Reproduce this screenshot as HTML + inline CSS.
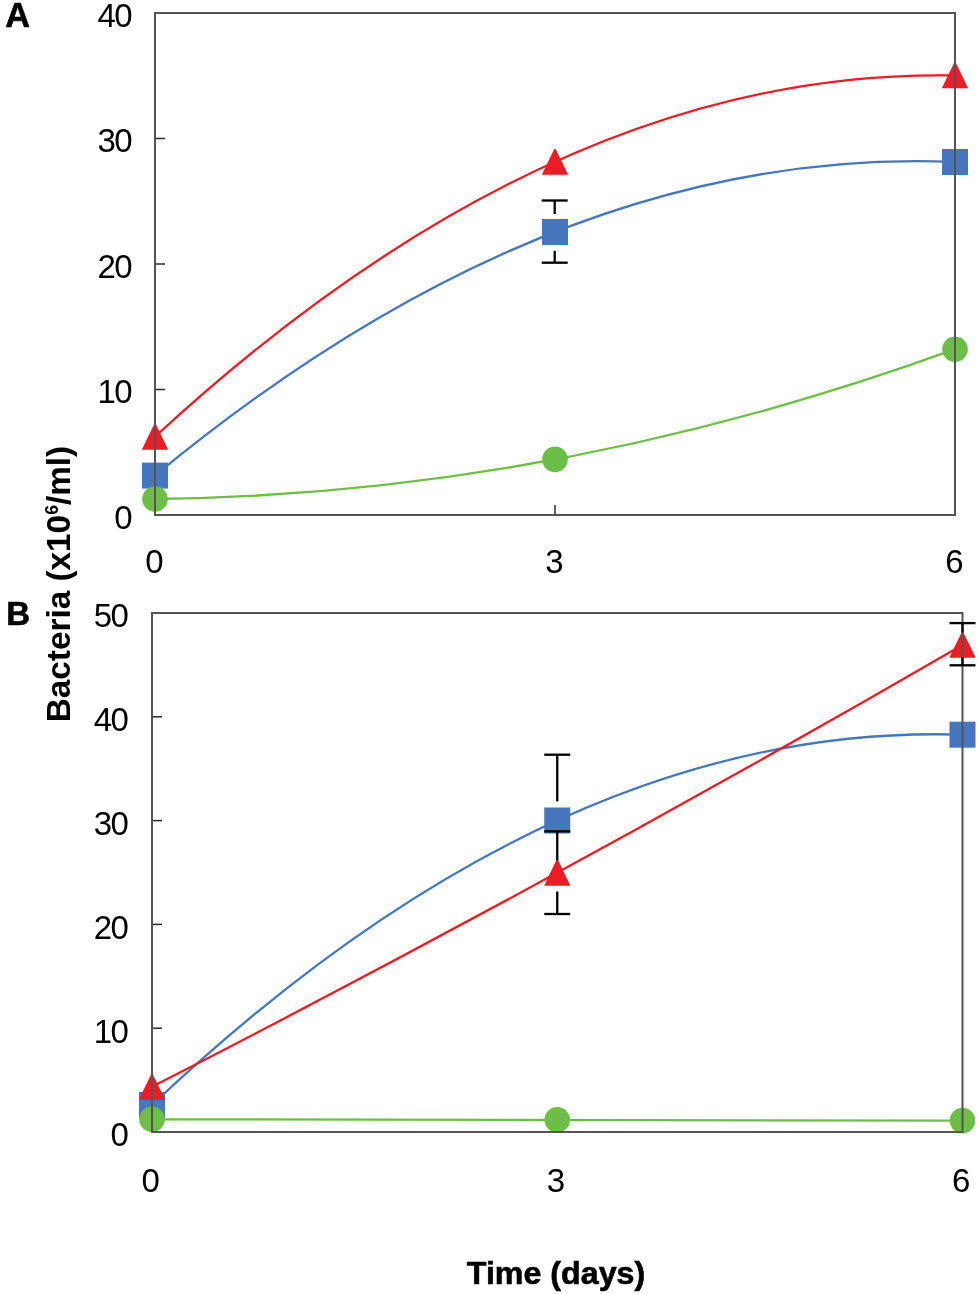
<!DOCTYPE html>
<html><head><meta charset="utf-8"><style>
html,body{margin:0;padding:0;background:#fff;}
body{width:980px;height:1294px;overflow:hidden;}
svg{display:block;will-change:transform;}
.t{font-family:"Liberation Sans",sans-serif;font-size:33px;letter-spacing:-1.5px;fill:#000;}
.b{font-family:"Liberation Sans",sans-serif;font-weight:bold;fill:#000;}
</style></head><body>
<svg width="980" height="1294" viewBox="0 0 980 1294">
<rect width="980" height="1294" fill="#fff"/>
<line x1="155" y1="389.5" x2="165" y2="389.5" stroke="#2a2a2a" stroke-width="1.5"/>
<line x1="155" y1="264" x2="165" y2="264" stroke="#2a2a2a" stroke-width="1.5"/>
<line x1="155" y1="138.5" x2="165" y2="138.5" stroke="#2a2a2a" stroke-width="1.5"/>
<line x1="555" y1="515" x2="555" y2="505" stroke="#2a2a2a" stroke-width="1.5"/>
<path d="M155,436.75 Q555,67.5 955,75.45" fill="none" stroke="#ec1c24" stroke-width="2.3"/>
<path d="M155,475.6 Q555,145.2 955,162" fill="none" stroke="#4677bd" stroke-width="2.3"/>
<path d="M155,499 Q555,494.7 955,349.2" fill="none" stroke="#6dbe46" stroke-width="2.3"/>
<path d="M154.3,423.85 L155.7,423.85 L168.2,449.65 L141.8,449.65 Z" fill="#ec1c24"/>
<path d="M554.3,148.9 L555.7,148.9 L568.2,174.7 L541.8,174.7 Z" fill="#ec1c24"/>
<path d="M954.3,62.55 L955.7,62.55 L968.2,88.35 L941.8,88.35 Z" fill="#ec1c24"/>
<rect x="142" y="462.6" width="26" height="26" fill="#4677bd"/>
<rect x="542" y="219" width="26" height="26" fill="#4677bd"/>
<rect x="942" y="149" width="26" height="26" fill="#4677bd"/>
<circle cx="155" cy="499" r="12.8" fill="#6dbe46"/>
<circle cx="555" cy="459.4" r="12.8" fill="#6dbe46"/>
<circle cx="955" cy="349.2" r="12.8" fill="#6dbe46"/>
<rect x="155" y="13" width="800" height="502" fill="none" stroke="#555557" stroke-width="2"/>
<line x1="541.7" y1="200.5" x2="567.7" y2="200.5" stroke="#000" stroke-width="2.3"/><line x1="554.7" y1="200.5" x2="554.7" y2="214" stroke="#000" stroke-width="2.3"/><line x1="541.7" y1="262.7" x2="567.7" y2="262.7" stroke="#000" stroke-width="2.3"/><line x1="554.7" y1="262.7" x2="554.7" y2="250.8" stroke="#000" stroke-width="2.3"/>
<line x1="152" y1="1028.2" x2="162" y2="1028.2" stroke="#2a2a2a" stroke-width="1.5"/>
<line x1="152" y1="924.4" x2="162" y2="924.4" stroke="#2a2a2a" stroke-width="1.5"/>
<line x1="152" y1="820.6" x2="162" y2="820.6" stroke="#2a2a2a" stroke-width="1.5"/>
<line x1="152" y1="716.8" x2="162" y2="716.8" stroke="#2a2a2a" stroke-width="1.5"/>
<line x1="557.25" y1="1132" x2="557.25" y2="1122" stroke="#2a2a2a" stroke-width="1.5"/>
<path d="M152,1105 Q557.25,721.15 962.5,734.7" fill="none" stroke="#4677bd" stroke-width="2.3"/>
<path d="M152,1086.85 Q557.25,879.62 962.5,644.9" fill="none" stroke="#ec1c24" stroke-width="2.3"/>
<path d="M152,1119.3 Q557.25,1119.65 962.5,1120.6" fill="none" stroke="#6dbe46" stroke-width="2.3"/>
<rect x="139" y="1092" width="26" height="26" fill="#4677bd"/>
<rect x="544.25" y="807.5" width="26" height="26" fill="#4677bd"/>
<rect x="949.5" y="721.7" width="26" height="26" fill="#4677bd"/>
<path d="M151.3,1073.95 L152.7,1073.95 L165.2,1099.75 L138.8,1099.75 Z" fill="#ec1c24"/>
<path d="M556.55,859.85 L557.95,859.85 L570.45,885.65 L544.05,885.65 Z" fill="#ec1c24"/>
<path d="M961.8,632 L963.2,632 L975.7,657.8 L949.3,657.8 Z" fill="#ec1c24"/>
<circle cx="152" cy="1119.3" r="12.8" fill="#6dbe46"/>
<circle cx="557.25" cy="1119.8" r="12.8" fill="#6dbe46"/>
<circle cx="962.5" cy="1120.6" r="12.8" fill="#6dbe46"/>
<rect x="152" y="613" width="810.5" height="519" fill="none" stroke="#555557" stroke-width="2"/>
<line x1="544.25" y1="754.7" x2="570.25" y2="754.7" stroke="#000" stroke-width="2.3"/><line x1="557.25" y1="754.7" x2="557.25" y2="801.4" stroke="#000" stroke-width="2.3"/>
<line x1="544.25" y1="831.3" x2="570.25" y2="831.3" stroke="#000" stroke-width="2.3"/><line x1="557.25" y1="831.3" x2="557.25" y2="860.5" stroke="#000" stroke-width="2.3"/><line x1="544.25" y1="914" x2="570.25" y2="914" stroke="#000" stroke-width="2.3"/><line x1="557.25" y1="914" x2="557.25" y2="891.6" stroke="#000" stroke-width="2.3"/>
<line x1="949.5" y1="623.1" x2="975.5" y2="623.1" stroke="#000" stroke-width="2.3"/><line x1="962.5" y1="623.1" x2="962.5" y2="632.5" stroke="#000" stroke-width="2.3"/><line x1="949.5" y1="665.3" x2="975.5" y2="665.3" stroke="#000" stroke-width="2.3"/><line x1="962.5" y1="665.3" x2="962.5" y2="657.5" stroke="#000" stroke-width="2.3"/>
<text x="131.1" y="528.8" text-anchor="end" class="t">0</text>
<text x="131.1" y="403.3" text-anchor="end" class="t">10</text>
<text x="131.1" y="277.8" text-anchor="end" class="t">20</text>
<text x="131.1" y="152.3" text-anchor="end" class="t">30</text>
<text x="131.1" y="26.8" text-anchor="end" class="t">40</text>
<text x="153.8" y="572.8" text-anchor="middle" class="t">0</text>
<text x="553.8" y="572.8" text-anchor="middle" class="t">3</text>
<text x="953.8" y="572.8" text-anchor="middle" class="t">6</text>
<text x="127.4" y="1146.4" text-anchor="end" class="t">0</text>
<text x="127.4" y="1042.6" text-anchor="end" class="t">10</text>
<text x="127.4" y="938.8" text-anchor="end" class="t">20</text>
<text x="127.4" y="835" text-anchor="end" class="t">30</text>
<text x="127.4" y="731.2" text-anchor="end" class="t">40</text>
<text x="127.4" y="627.4" text-anchor="end" class="t">50</text>
<text x="150" y="1191.7" text-anchor="middle" class="t">0</text>
<text x="555.25" y="1191.7" text-anchor="middle" class="t">3</text>
<text x="960.5" y="1191.7" text-anchor="middle" class="t">6</text>
<text x="5.2" y="26.8" class="b" style="font-size:34.3px;stroke:#000;stroke-width:0.6px">A</text>
<text x="6.2" y="625.3" class="b" style="font-size:33px;stroke:#000;stroke-width:0.6px">B</text>
<text transform="translate(69.9,722.3) rotate(-90)" class="b" style="font-size:33px" textLength="276.5" lengthAdjust="spacingAndGlyphs">Bacteria (x10<tspan dy="-12.3" style="font-size:17.5px">6</tspan><tspan dy="12.3">/ml)</tspan></text>
<text x="466.8" y="1283.6" class="b" style="font-size:31px;stroke:#000;stroke-width:0.6px" textLength="178.4" lengthAdjust="spacingAndGlyphs">Time (days)</text>
</svg>
</body></html>
